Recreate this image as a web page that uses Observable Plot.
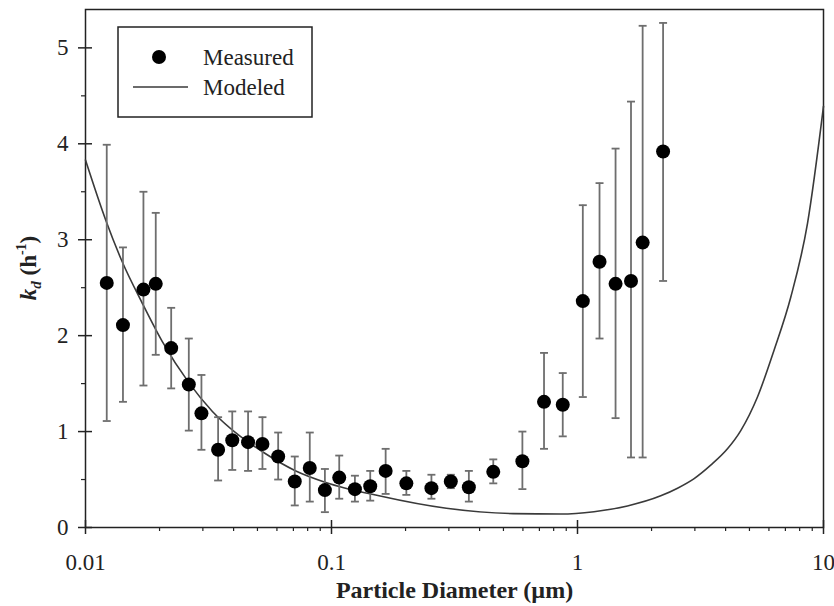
<!DOCTYPE html>
<html>
<head>
<meta charset="utf-8">
<script src="https://cdn.jsdelivr.net/npm/d3@7"></script>
<script src="https://cdn.jsdelivr.net/npm/@observablehq/plot@0.6"></script>
<style>
  html, body { margin: 0; padding: 0; background: #fff; }
  #chart svg { display: block; }
  #chart svg text { font-family: 'Liberation Serif', 'Times New Roman', serif; }
</style>
</head>
<body>
<div id="chart"></div>
<script>
// Measured particle diameter (µm), deposition rate kd (h^-1), error bar low / high
const measDiameter = [0.0122, 0.0142, 0.0172, 0.0193, 0.0223, 0.0263, 0.0296, 0.0346, 0.0395, 0.0458, 0.0524, 0.0607, 0.0709, 0.0816, 0.0940, 0.1075, 0.1245, 0.1437, 0.166, 0.2015, 0.2548, 0.3055, 0.3617, 0.4546, 0.597, 0.731, 0.871, 1.051, 1.229, 1.428, 1.650, 1.84, 2.228];
const measKd       = [2.55, 2.11, 2.48, 2.54, 1.87, 1.49, 1.19, 0.81, 0.91, 0.89, 0.87, 0.74, 0.48, 0.62, 0.39, 0.52, 0.40, 0.43, 0.59, 0.46, 0.41, 0.48, 0.42, 0.58, 0.69, 1.31, 1.28, 2.36, 2.77, 2.54, 2.57, 2.97, 3.92];
const measLow      = [1.11, 1.31, 1.48, 1.80, 1.45, 1.01, 0.81, 0.49, 0.60, 0.59, 0.61, 0.50, 0.23, 0.27, 0.16, 0.30, 0.27, 0.28, 0.35, 0.34, 0.30, 0.41, 0.27, 0.46, 0.40, 0.82, 0.95, 1.36, 1.97, 1.14, 0.73, 0.73, 2.57];
const measHigh     = [3.99, 2.92, 3.50, 3.28, 2.29, 1.97, 1.59, 1.15, 1.21, 1.21, 1.15, 0.99, 0.74, 0.99, 0.61, 0.75, 0.54, 0.59, 0.82, 0.59, 0.55, 0.55, 0.59, 0.71, 1.00, 1.82, 1.61, 3.36, 3.59, 3.95, 4.44, 5.23, 5.26];

// Modeled curve
const modelDiameter = [0.01, 0.0121, 0.0141, 0.0170, 0.0205, 0.0263, 0.0328, 0.0421, 0.0524, 0.0716, 0.0948, 0.156, 0.293, 0.548, 0.855, 1.167, 1.596, 2.18, 2.55, 2.98, 3.48, 4.07, 4.61, 5.39, 6.30, 7.36, 8.61, 10];
const modelKd       = [3.83, 3.20, 2.77, 2.34, 1.94, 1.51, 1.21, 0.96, 0.79, 0.59, 0.47, 0.33, 0.20, 0.145, 0.140, 0.165, 0.225, 0.33, 0.41, 0.51, 0.65, 0.82, 1.01, 1.36, 1.85, 2.40, 3.17, 4.39];

// Axis ticks
const xMajor = [0.01, 0.1, 1, 10];
const xMajorLabels = ["0.01", "0.1", "1", "10"];
const xMinor = [];
for (const dec of [0.01, 0.1, 1]) for (let k = 2; k <= 9; k++) xMinor.push(+(dec * k).toPrecision(3));
const yMajor = [0, 1, 2, 3, 4, 5];
const yMinor = [0.5, 1.5, 2.5, 3.5, 4.5];

const measured = measDiameter.map((x, i) => ({x, y: measKd[i], lo: measLow[i], hi: measHigh[i]}));
const modeled = modelDiameter.map((x, i) => ({x, y: modelKd[i]}));

const W = 834, H = 606;
const mL = 85, mR = 11, mT = 9, mB = 79;
const innerW = W - mL - mR, innerH = H - mT - mB;
const capRatio = 1.038;
const ink = "#222";
const barColor = "#6e6e6e";
const serif = "'Liberation Serif', 'Times New Roman', serif";

const chart = Plot.plot({
  width: W,
  height: H,
  marginLeft: mL,
  marginRight: mR,
  marginTop: mT,
  marginBottom: mB,
  style: {fontFamily: serif, fontSize: "23px", color: ink, background: "#fff"},
  x: {type: "log", domain: [0.01, 10], label: null},
  y: {domain: [0, 5.4], label: null},
  marks: [
    Plot.frame({stroke: ink, strokeWidth: 1.5}),
    // axes
    Plot.axisX(xMajor, {tickSize: 7, tickPadding: 19, tickFormat: (d) => xMajorLabels[xMajor.indexOf(d)], label: null, stroke: ink, strokeWidth: 1.5, fontSize: 23, fontFamily: serif}),
    Plot.axisX(xMinor, {tickSize: 4, tickFormat: () => "", label: null, stroke: ink, strokeWidth: 1.2}),
    Plot.tickX(xMajor, {x: (d) => d, insetTop: innerH - 7, stroke: ink, strokeWidth: 1.5}),
    Plot.axisY(yMajor, {tickSize: 7, tickPadding: 10, tickFormat: (d) => String(d), label: null, stroke: ink, strokeWidth: 1.5, fontSize: 23, fontFamily: serif}),
    Plot.axisY(yMinor, {tickSize: 4, tickFormat: () => "", label: null, stroke: ink, strokeWidth: 1.2}),
    Plot.tickY(yMajor, {y: (d) => d, insetRight: innerW - 7, stroke: ink, strokeWidth: 1.5}),
    // model curve
    Plot.line(modeled, {x: "x", y: "y", curve: "monotone-x", stroke: "#3a3a3a", strokeWidth: 1.6}),
    // error bars
    Plot.ruleX(measured, {x: "x", y1: "lo", y2: "hi", stroke: barColor, strokeWidth: 1.8}),
    Plot.link(measured, {x1: (d) => d.x / capRatio, x2: (d) => d.x * capRatio, y1: "hi", y2: "hi", stroke: barColor, strokeWidth: 1.8}),
    Plot.link(measured, {x1: (d) => d.x / capRatio, x2: (d) => d.x * capRatio, y1: "lo", y2: "lo", stroke: barColor, strokeWidth: 1.8}),
    // points
    Plot.dot(measured, {x: "x", y: "y", r: 7, fill: "#000", stroke: "none"}),
    // x label
    Plot.text(["Particle Diameter (\u00b5m)"], {frameAnchor: "bottom", dy: 70, fontWeight: "bold", fontSize: 24, fontFamily: serif, fill: ink})
  ]
});

document.getElementById("chart").appendChild(chart);

const svg = d3.select(chart);
// Y axis label with subscript / superscript
const yl = svg.append("text")
  .attr("transform", `translate(36,${mT + innerH / 2}) rotate(-90)`)
  .attr("text-anchor", "middle")
  .attr("font-family", serif)
  .attr("font-size", 23)
  .attr("font-weight", "bold")
  .attr("fill", ink);
yl.append("tspan").attr("font-style", "italic").text("k");
yl.append("tspan").attr("font-size", 15).attr("dy", 5).attr("font-style", "italic").text("d");
yl.append("tspan").attr("dy", -5).text(" (h");
yl.append("tspan").attr("font-size", 14).attr("dy", -10).text("-1");
yl.append("tspan").attr("dy", 10).text(")");

// Legend box
const lg = svg.append("g").attr("font-family", serif).attr("font-size", 23).attr("fill", ink).attr("text-anchor", "start");
lg.append("rect").attr("x", 118).attr("y", 27).attr("width", 194).attr("height", 90).attr("fill", "#fff").attr("stroke", ink).attr("stroke-width", 1.5);
lg.append("circle").attr("cx", 159).attr("cy", 57).attr("r", 7).attr("fill", "#000");
lg.append("line").attr("x1", 133).attr("x2", 188).attr("y1", 87).attr("y2", 87).attr("stroke", "#3a3a3a").attr("stroke-width", 1.6);
lg.append("text").attr("x", 203).attr("y", 65).attr("text-anchor", "start").text("Measured");
lg.append("text").attr("x", 203).attr("y", 95).attr("text-anchor", "start").text("Modeled");
</script>
</body>
</html>
